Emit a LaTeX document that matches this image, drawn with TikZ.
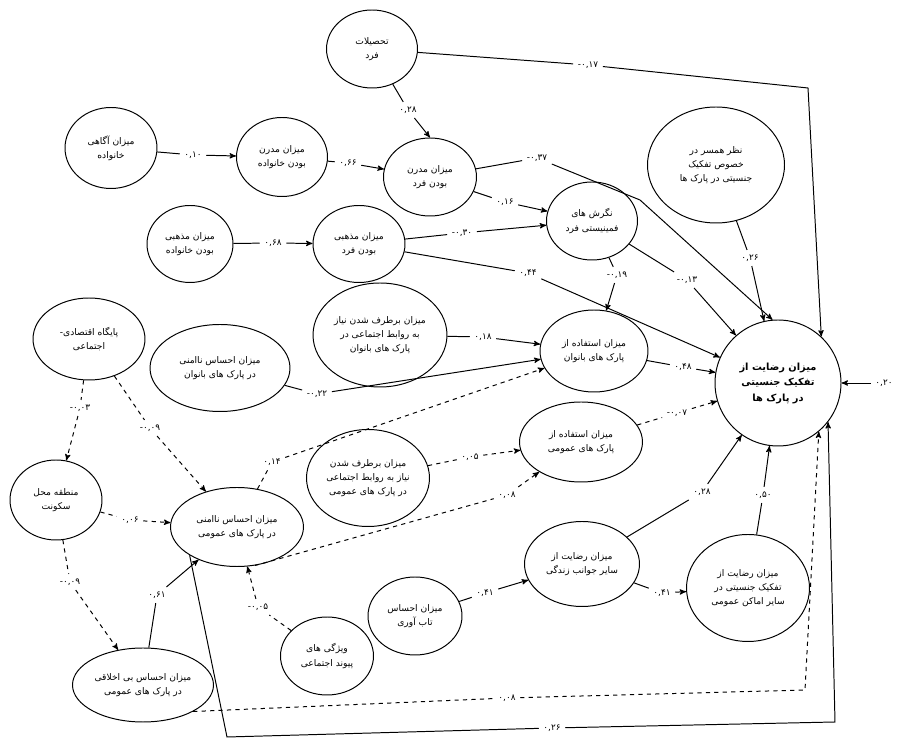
\documentclass[tikz,border=0pt]{standalone}
\usepackage{fontspec}
\newfontfamily\farsifont[Script=Arabic]{DejaVu Sans}
\newfontfamily\numfont{DejaVu Sans}
\TeXXeTstate=1
\usetikzlibrary{shapes.geometric}
\usetikzlibrary{arrows}
\tikzset{>=stealth'}
\tikzset{fac/.style={draw, ellipse, inner sep=0pt, align=center, font=\farsifont\fontsize{6.5}{10}\selectfont}}
\tikzset{sz/.style 2 args={minimum width=#1*0.025cm, minimum height=#2*0.025cm}}
\tikzset{coef/.style={font=\numfont\fontsize{6.3}{7}\selectfont, inner sep=3pt}}
\newcommand{\fa}[1]{\beginR #1\endR}

\begin{document}
\begin{tikzpicture}[x=0.025cm, y=-0.025cm, line width=0.7pt]
\useasboundingbox (0,0) rectangle (897,740);

% variables
\node[fac, sz={91}{78}] (tah) at (372,49) {\fa{تحصیلات}\\\fa{فرد}};
\node[fac, sz={92}{81}] (agh) at (111,148) {\fa{میزان آگاهی}\\\fa{خانواده}};
\node[fac, sz={91}{79}] (mkh) at (282,157) {\fa{میزان مدرن}\\\fa{بودن خانواده}};
\node[fac, sz={93}{78}] (mfd) at (430,177) {\fa{میزان مدرن}\\\fa{بودن فرد}};
\node[fac, sz={86}{77}] (zkh) at (190,244) {\fa{میزان مذهبی}\\\fa{بودن خانواده}};
\node[fac, sz={92}{77}] (zfd) at (359,244) {\fa{میزان مذهبی}\\\fa{بودن فرد}};
\node[fac, sz={91}{78}] (neg) at (592,221) {\fa{نگرش های}\\\fa{فمینیستی فرد}};
\node[fac, sz={137}{116}] (ham) at (716,165) {\fa{نظر همسر در}\\\fa{خصوص تفکیک}\\\fa{جنسیتی در پارک ها}};
\node[draw, circle, inner sep=0pt, align=center, minimum size=126*0.025cm,
  font=\farsifont\bfseries\fontsize{7}{11}\selectfont] (main) at (778,383)
  {\fa{میزان رضایت از}\\\fa{تفکیک جنسیتی}\\\fa{در پارک ها}};
\node[fac, sz={112}{82}] (pay) at (89,339) {\fa{پایگاه اقتصادی-}\\\fa{اجتماعی}};
\node[fac, sz={140}{87}] (nab) at (220,368) {\fa{میزان احساس ناامنی}\\\fa{در پارک های بانوان}};
\node[fac, sz={134}{104}] (brb) at (380,335) {\fa{میزان برطرف شدن نیاز}\\\fa{به روابط اجتماعی در}\\\fa{پارک های بانوان}};
\node[fac, sz={108}{82}] (esb) at (594,351) {\fa{میزان استفاده از}\\\fa{پارک های بانوان}};
\node[fac, sz={123}{97}] (bro) at (368,478) {\fa{میزان برطرف شدن}\\\fa{نیاز به روابط اجتماعی}\\\fa{در پارک های عمومی}};
\node[fac, sz={123}{80}] (eso) at (581,442) {\fa{میزان استفاده از}\\\fa{پارک های عمومی}};
\node[fac, sz={92}{80}] (mnt) at (56,500) {\fa{منطقه محل}\\\fa{سکونت}};
\node[fac, sz={133}{79}] (nao) at (237,527) {\fa{میزان احساس ناامنی}\\\fa{در پارک های عمومی}};
\node[fac, sz={141}{74}] (bak) at (143,685) {\fa{میزان احساس بی اخلاقی}\\\fa{در پارک های عمومی}};
\node[fac, sz={93}{78}] (viz) at (327,656) {\fa{ویژگی های}\\\fa{پیوند اجتماعی}};
\node[fac, sz={94}{78}] (tab) at (415,616) {\fa{میزان احساس}\\\fa{تاب آوری}};
\node[fac, sz={115}{85}] (rsj) at (582,564) {\fa{میزان رضایت از}\\\fa{سایر جوانب زندگی}};
\node[fac, sz={123}{107}] (rsa) at (748,588) {\fa{میزان رضایت از}\\\fa{تفکیک جنسیتی در}\\\fa{سایر اماکن عمومی}};

% path coefficients
\node[coef] (w1) at (588,65) {-۰,۱۷};
\node[coef] (w2) at (408,110) {۰,۲۸};
\node[coef] (w3) at (193,155) {۰,۱۰};
\node[coef] (w4) at (348,163) {۰,۶۶};
\node[coef] (w5) at (505,202) {۰,۱۶};
\node[coef] (w6) at (462,233) {-۰,۳۰};
\node[coef] (w7) at (273,243) {۰,۶۸};
\node[coef] (w8) at (528,273) {۰,۴۴};
\node[coef] (w9) at (617,275) {-۰,۱۹};
\node[coef] (w10) at (687,280) {-۰,۱۳};
\node[coef] (w11) at (750,258) {۰,۲۶};
\node[coef] (w12) at (537,158) {-۰,۳۷};
\node[coef] (w13) at (483,337) {۰,۱۸};
\node[coef] (w14) at (317,394) {-۰,۲۲};
\node[coef] (w15) at (272,462) {۰,۱۴};
\node[coef] (w16) at (683,367) {۰,۴۸};
\node[coef] (w17) at (470,457) {۰,۰۵};
\node[coef] (w18) at (677,413) {-۰,۰۷};
\node[coef] (w19) at (507,495) {۰,۰۸};
\node[coef] (w20) at (80,408) {-۰,۰۳};
\node[coef] (w21) at (150,428) {-۰,۰۹};
\node[coef] (w22) at (130,520) {۰,۰۶};
\node[coef] (w23) at (70,582) {-۰,۰۹};
\node[coef] (w24) at (157,595) {۰,۶۱};
\node[coef] (w25) at (552,728) {۰,۲۶};
\node[coef] (w26) at (507,698) {۰,۰۸};
\node[coef] (w27) at (258,607) {-۰,۰۵};
\node[coef] (w28) at (485,593) {۰,۴۱};
\node[coef] (w29) at (702,492) {۰,۲۸};
\node[coef] (w30) at (662,593) {۰,۴۱};
\node[coef] (w31) at (763,495) {۰,۵۰};
\node[coef] (w32) at (884,383) {۰,۲۰};

\coordinate (c1) at (808,88);
\coordinate (c2) at (227,737);
\coordinate (c3) at (835,722);
\coordinate (c4) at (805,690);
\coordinate (b12) at (640,200);

% solid paths
\draw[->] (tah) -- (w1) -- (c1) -- (main.47);
\draw[->] (tah) -- (w2) -- (mfd.north);
\draw[->] (agh) -- (w3) -- (mkh);
\draw[->] (mkh) -- (w4) -- (mfd);
\draw[->] (mfd) -- (w5) -- (neg);
\draw[->] (zfd) -- (w6) -- (neg);
\draw[->] (zkh) -- (w7) -- (zfd);
\draw[->] (zfd) -- (w8) -- (main);
\draw[->] (neg) -- (w9) -- (esb);
\draw[->] (neg) -- (w10) -- (main);
\draw[->] (ham) -- (w11) -- (main);
\draw[->] (mfd) -- (w12) -- (b12) -- (main.95);
\draw[->] (brb) -- (w13) -- (esb);
\draw[->] (nab) -- (w14) -- (esb);
\draw[->] (esb) -- (w16) -- (main);
\draw[->] (bak) -- (w24) -- (nao);
\draw[->] (nao.south west) -- (c2) -- (w25) -- (c3) -- (main.-38);
\draw[->] (tab) -- (w28) -- (rsj);
\draw[->] (rsj) -- (w29) -- (main);
\draw[->] (rsj) -- (w30) -- (rsa);
\draw[->] (rsa) -- (w31) -- (main);
\draw[->] (w32) -- (main);

% non significant paths
\draw[->, dashed] (nao) -- (w15) -- (esb);
\draw[->, dashed] (bro) -- (w17) -- (eso);
\draw[->, dashed] (eso) -- (w18) -- (main);
\draw[->, dashed] (nao.-65) -- (w19) -- (eso);
\draw[->, dashed] (pay) -- (w20) -- (mnt);
\draw[->, dashed] (pay) -- (w21) -- (nao);
\draw[->, dashed] (mnt) -- (w22) -- (nao);
\draw[->, dashed] (mnt) -- (w23) -- (bak);
\draw[->, dashed] (bak.south east) -- (w26) -- (c4) -- (main.-50);
\draw[->, dashed] (viz) -- (w27) -- (nao);
\end{tikzpicture}
\end{document}
